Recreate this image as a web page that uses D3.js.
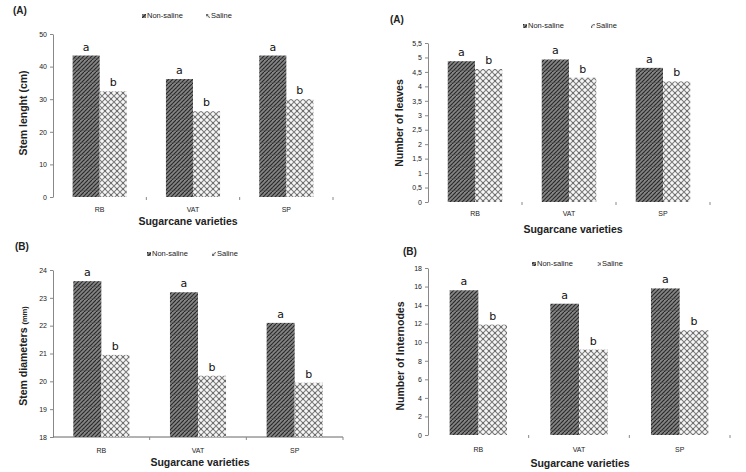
<!DOCTYPE html>
<html lang='en'>
<head>
  <meta charset='utf-8'/>
  <title>Sugarcane varieties under saline and non-saline conditions</title>
  <script src='https://d3js.org/d3.v7.min.js'></script>
  <style>
    body{margin:0;background:#ffffff;font-family:'Liberation Sans',Arial,sans-serif;}
    svg text{fill:#222;}
  </style>
</head>
<body>
<svg id='chart'></svg>
<script>
// Data
const varieties = ['RB', 'VAT', 'SP'];
const treatments = ['Non-saline', 'Saline'];
const letters = ['a', 'b'];

const stemLengthNon = [43.4, 36.2, 43.4];
const stemLengthSal = [32.4, 26.3, 30.0];
const stemLengthTicks = [0, 10, 20, 30, 40, 50];

const leavesNon = [4.87, 4.93, 4.64];
const leavesSal = [4.60, 4.30, 4.17];
const leavesTicks = [0, 0.5, 1, 1.5, 2, 2.5, 3, 3.5, 4, 4.5, 5, 5.5];

const diameterNon = [23.6, 23.2, 22.1];
const diameterSal = [20.95, 20.2, 19.95];
const diameterTicks = [18, 19, 20, 21, 22, 23, 24];

const internodesNon = [15.6, 14.15, 15.8];
const internodesSal = [11.9, 9.2, 11.3];
const internodesTicks = [0, 2, 4, 6, 8, 10, 12, 14, 16, 18];

// Canvas
const W = 746, H = 472;
const svg = d3.select('#chart').attr('width', W).attr('height', H);

// Fill patterns: dark diagonal hatch for non-saline, light diamond lattice for saline
const defs = svg.append('defs');
const pNon = defs.append('pattern').attr('id', 'pNon')
  .attr('patternUnits', 'userSpaceOnUse').attr('width', 4).attr('height', 12);
pNon.append('rect').attr('width', 4).attr('height', 12).attr('fill', '#858585');
[-4, 0, 4, 8, 12].forEach(o => {
  pNon.append('path').attr('d', `M${o - 4},12 L${o + 8},0`).attr('stroke', '#262626').attr('stroke-width', 1.2);
});
pNon.append('rect').attr('y', 10).attr('width', 4).attr('height', 1).attr('fill', '#555').attr('opacity', 0.5);

const pSal = defs.append('pattern').attr('id', 'pSal')
  .attr('patternUnits', 'userSpaceOnUse').attr('width', 6).attr('height', 6);
pSal.append('rect').attr('width', 6).attr('height', 6).attr('fill', '#f6f6f6');
pSal.append('path').attr('d', 'M0,0 L6,6 M6,0 L0,6').attr('stroke', '#7d7d7d').attr('stroke-width', 1.1);
pSal.append('rect').attr('x', 2.5).attr('y', 2.5).attr('width', 1).attr('height', 1).attr('fill', '#333');

const fills = ['url(#pNon)', 'url(#pSal)'];
const fmtComma = d => String(d).replace('.', ',');

function drawPanel(cfg) {
  const g = svg.append('g');
  const x0 = d3.scaleBand().domain(varieties).range(cfg.xRange);
  const bw = x0.bandwidth();
  const x1 = d3.scaleBand().domain(treatments).range([bw * cfg.inset, bw * (1 - cfg.inset)]);
  const y = d3.scaleLinear().domain(cfg.domain).range(cfg.yRange);

  // panel tag
  g.append('text').attr('x', cfg.tag[0]).attr('y', cfg.tag[1])
    .attr('font-size', 10).attr('font-weight', 'bold').text(cfg.tagText);

  // legend
  treatments.forEach((t, i) => {
    const lx = cfg.legend[i], ly = cfg.legendY;
    g.append('rect').attr('x', lx).attr('y', ly - 4).attr('width', 4).attr('height', 4).attr('fill', fills[i]);
    g.append('text').attr('x', lx + 5).attr('y', ly).attr('font-size', 7.5).text(t);
  });

  // y axis
  const yAxis = d3.axisLeft(y).tickValues(cfg.ticks).tickSize(3).tickSizeOuter(0)
    .tickFormat(cfg.tickFormat || d3.format('d'));
  const ya = g.append('g').attr('transform', `translate(${cfg.xRange[0]},0)`).call(yAxis);
  ya.select('.domain').attr('stroke', '#888');
  ya.selectAll('.tick line').attr('stroke', '#888');
  ya.selectAll('.tick text').attr('font-size', 7).attr('font-family', "'Liberation Sans',Arial,sans-serif")
    .attr('fill', '#444').attr('x', -6);

  // x axis
  const xa = g.append('g').attr('transform', `translate(0,${cfg.yRange[0]})`);
  if (cfg.xLine) {
    xa.append('line').attr('x1', cfg.xRange[0]).attr('x2', cfg.xRange[1]).attr('stroke', '#666');
  }
  varieties.forEach((v, i) => {
    const tx = cfg.xRange[0] + bw * (i + 1);
    xa.append('line').attr('x1', tx).attr('x2', tx).attr('y1', 0).attr('y2', 3).attr('stroke', '#888');
  });
  varieties.forEach(v => {
    g.append('text').attr('x', x0(v) + bw / 2).attr('y', cfg.xLabelY)
      .attr('text-anchor', 'middle').attr('font-size', 7).attr('fill', '#444').text(v);
  });

  // bars
  const rows = varieties.flatMap((v, i) => treatments.map((t, j) => ({v, t, j, val: cfg.series[j][i]})));
  g.selectAll('rect.bar').data(rows).join('rect')
    .attr('class', 'bar')
    .attr('x', d => x0(d.v) + x1(d.t))
    .attr('width', x1.bandwidth())
    .attr('y', d => y(d.val))
    .attr('height', d => y(cfg.domain[0]) - y(d.val))
    .attr('fill', d => fills[d.j]);

  g.selectAll('text.sig').data(rows).join('text')
    .attr('class', 'sig')
    .attr('x', d => x0(d.v) + x1(d.t) + x1.bandwidth() / 2)
    .attr('y', d => y(d.val) - 5)
    .attr('text-anchor', 'middle')
    .attr('font-size', 11)
    .attr('font-family', "'DejaVu Sans',sans-serif")
    .style('fill', '#111')
    .text(d => letters[d.j]);

  // axis titles
  g.append('text').attr('x', cfg.xTitle[0]).attr('y', cfg.xTitle[1])
    .attr('text-anchor', 'middle').attr('font-size', 10.5).attr('font-weight', 'bold')
    .text('Sugarcane varieties');
  const yt = g.append('text')
    .attr('transform', `translate(${cfg.yTitle[0]},${cfg.yTitle[1]}) rotate(-90)`)
    .attr('text-anchor', 'middle').attr('font-size', 10.5).attr('font-weight', 'bold');
  yt.append('tspan').text(cfg.yLabel);
  if (cfg.yUnit) yt.append('tspan').attr('font-size', 7.5).text(cfg.yUnit);
}

drawPanel({
  tagText: '(A)', tag: [13, 14],
  legend: [142, 206], legendY: 18,
  xRange: [53, 333], yRange: [197, 34], domain: [0, 50], inset: 0.21,
  ticks: stemLengthTicks, series: [stemLengthNon, stemLengthSal],
  xLabelY: 212, xTitle: [188, 225], yTitle: [27, 113],
  yLabel: 'Stem lenght (cm)', xLine: false
});

drawPanel({
  tagText: '(A)', tag: [390, 23],
  legend: [523, 591], legendY: 28,
  xRange: [428, 710], yRange: [202, 43], domain: [0, 5.5], inset: 0.21,
  ticks: leavesTicks, tickFormat: fmtComma, series: [leavesNon, leavesSal],
  xLabelY: 216, xTitle: [573, 233], yTitle: [403, 123],
  yLabel: 'Number of leaves', xLine: false
});

drawPanel({
  tagText: '(B)', tag: [15, 250],
  legend: [147, 212], legendY: 256,
  xRange: [53, 343], yRange: [437, 270], domain: [18, 24], inset: 0.21,
  ticks: diameterTicks, series: [diameterNon, diameterSal],
  xLabelY: 453, xTitle: [200, 466], yTitle: [27, 356],
  yLabel: 'Stem diameters ', yUnit: '(mm)', xLine: true
});

drawPanel({
  tagText: '(B)', tag: [403, 255],
  legend: [532, 597], legendY: 266,
  xRange: [428, 730], yRange: [435, 268], domain: [0, 18], inset: 0.215,
  ticks: internodesTicks, series: [internodesNon, internodesSal],
  xLabelY: 452, xTitle: [580, 467], yTitle: [404, 356],
  yLabel: 'Number of Internodes', xLine: false
});
</script>
</body>
</html>
